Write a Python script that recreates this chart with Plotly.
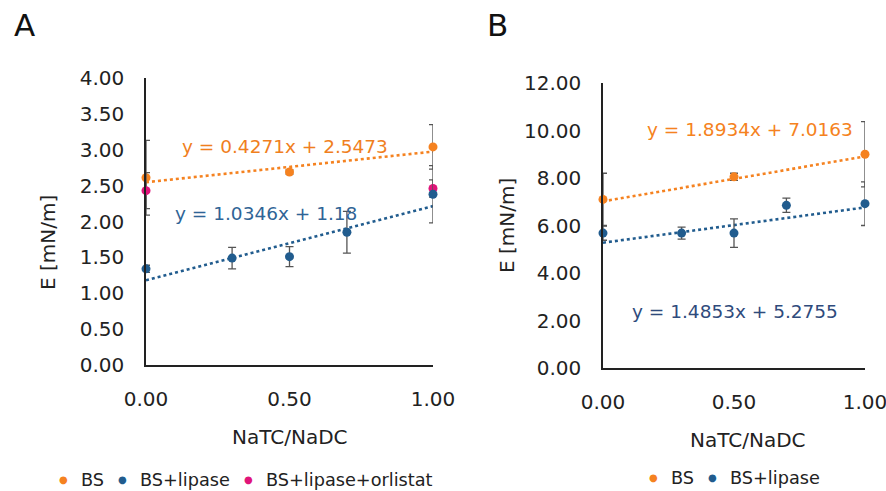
import plotly.graph_objects as go
import numpy as np

W, H = 886, 491
FONT = "DejaVu Sans"

# ---------------- data ----------------
# Panel A
a_bs_x = [0.0, 0.5, 1.0]
a_bs_y = [2.61, 2.69, 3.04]
a_bs_err = [0.52, 0.03, 0.31]
a_lip_x = [0.0, 0.3, 0.5, 0.7, 1.0]
a_lip_y = [1.34, 1.49, 1.51, 1.85, 2.38]
a_lip_err = [0.05, 0.15, 0.14, 0.29, 0.40]
a_orl_x = [0.0, 1.0]
a_orl_y = [2.43, 2.46]
a_orl_err = [0.25, 0.12]
a_fit_bs = (0.4271, 2.5473)
a_fit_lip = (1.0346, 1.18)

# Panel B
b_bs_x = [0.0, 0.5, 1.0]
b_bs_y = [7.10, 8.05, 9.00]
b_bs_err = [1.10, 0.15, 1.37]
b_lip_x = [0.0, 0.3, 0.5, 0.7, 1.0]
b_lip_y = [5.68, 5.68, 5.68, 6.85, 6.92]
b_lip_err = [0.30, 0.25, 0.60, 0.30, 0.92]
b_fit_bs = (1.8934, 7.0163)
b_fit_lip = (1.4853, 5.2755)

x_ticks = [0.0, 0.5, 1.0]
a_y_ticks = [0, 0.5, 1, 1.5, 2, 2.5, 3, 3.5, 4]
b_y_ticks = [0, 2, 4, 6, 8, 10, 12]

ORANGE = "#F58220"
BLUE = "#215C8E"
PINK = "#E0147A"
ERRC = "#555555"

fig = go.Figure()

def add_series(x, y, err, color, xa, ya):
    fig.add_trace(go.Scatter(
        x=x, y=y, mode="markers", xaxis=xa, yaxis=ya, showlegend=False,
        marker=dict(color=color, size=9),
        error_y=dict(type="data", array=err, visible=True, color=ERRC,
                     thickness=1.3, width=4),
        cliponaxis=False))

def add_fit(fit, color, xa, ya):
    xs = np.array([0.0, 1.0])
    ys = fit[0] * xs + fit[1]
    fig.add_trace(go.Scatter(
        x=xs, y=ys, mode="lines", xaxis=xa, yaxis=ya, showlegend=False,
        line=dict(color=color, width=2.6, dash="dot"), cliponaxis=False))

add_fit(a_fit_bs, ORANGE, "x", "y")
add_fit(a_fit_lip, BLUE, "x", "y")
add_series(a_bs_x, a_bs_y, a_bs_err, ORANGE, "x", "y")
add_series(a_orl_x, a_orl_y, a_orl_err, PINK, "x", "y")
add_series(a_lip_x, a_lip_y, a_lip_err, BLUE, "x", "y")

add_fit(b_fit_bs, ORANGE, "x2", "y2")
add_fit(b_fit_lip, BLUE, "x2", "y2")
add_series(b_bs_x, b_bs_y, b_bs_err, ORANGE, "x2", "y2")
add_series(b_lip_x, b_lip_y, b_lip_err, BLUE, "x2", "y2")

def px(x):
    return x / W

def py(y):
    return 1 - y / H

tickfont = dict(family=FONT, size=20, color="#222222")

common_x = dict(range=[0, 1], tickvals=x_ticks, ticktext=[f"{v:.2f}" for v in x_ticks],
                showgrid=False, zeroline=False, showline=True, linecolor="#222222",
                linewidth=1.5, ticks="", tickfont=tickfont, ticklabelstandoff=15,
                ticklabeloverflow="allow", automargin=False)
common_y = dict(showgrid=False, zeroline=False, showline=True, linecolor="#222222",
                linewidth=1.5, ticks="", tickfont=tickfont, ticklabelstandoff=16,
                ticklabeloverflow="allow", automargin=False)

fig.update_layout(
    template="none",
    width=W, height=H, margin=dict(l=0, r=0, t=0, b=0, autoexpand=False),
    paper_bgcolor="white", plot_bgcolor="white",
    font=dict(family=FONT),
    xaxis=dict(domain=[px(146), px(433)], anchor="y", **common_x),
    yaxis=dict(domain=[py(365), py(78)], anchor="x", range=[0, 4], tickvals=a_y_ticks,
               ticktext=[f"{v:.2f}" for v in a_y_ticks], **common_y),
    xaxis2=dict(domain=[px(603), px(865)], anchor="y2", **common_x),
    yaxis2=dict(domain=[py(368), py(83)], anchor="x2", range=[0, 12], tickvals=b_y_ticks,
                ticktext=[f"{v:.2f}" for v in b_y_ticks], **common_y),
)

def ann(text, x, y, size=18.5, color="#222222", angle=0):
    fig.add_annotation(text=text, x=px(x), y=py(y), xref="paper", yref="paper",
                       showarrow=False, xanchor="center", yanchor="middle",
                       textangle=angle, font=dict(family=FONT, size=size, color=color))

# panel labels
ann("A", 24, 25, size=31, color="#111111")
ann("B", 497, 25, size=31, color="#111111")

# axis titles
ann("E [mN/m]", 48, 243, size=20, angle=-90)
ann("NaTC/NaDC", 290, 437, size=20)
ann("E [mN/m]", 507, 226, size=20, angle=-90)
ann("NaTC/NaDC", 748, 440, size=20)

# trendline equations
ann(f"y = {a_fit_bs[0]}x + {a_fit_bs[1]}", 285, 146, color="#F07F1E")
ann(f"y = {a_fit_lip[0]}x + {a_fit_lip[1]}", 266, 213, color="#2F6496")
ann(f"y = {b_fit_bs[0]}x + {b_fit_bs[1]}", 750, 129, color="#F58220")
ann(f"y = {b_fit_lip[0]}x + {b_fit_lip[1]}", 735, 311, color="#2F4B7C")

# legends
def leg_item(color, label, x, y):
    fig.add_annotation(text="●", x=px(x), y=py(y - 1), xref="paper", yref="paper",
                       showarrow=False, xanchor="center", yanchor="middle",
                       font=dict(family=FONT, size=10, color=color))
    fig.add_annotation(text=label, x=px(x + 16), y=py(y), xref="paper",
                       yref="paper", showarrow=False, xanchor="left", yanchor="middle",
                       font=dict(family=FONT, size=17.7, color="#222222"))

leg_item(ORANGE, "BS", 63, 480)
leg_item(BLUE, "BS+lipase", 122, 480)
leg_item(PINK, "BS+lipase+orlistat", 248, 480)
leg_item(ORANGE, "BS", 653, 478)
leg_item(BLUE, "BS+lipase", 712, 478)

fig.write_html("out.html", config={"displayModeBar": False},
               post_script="document.body.style.margin='0px';document.body.style.padding='0px';")
